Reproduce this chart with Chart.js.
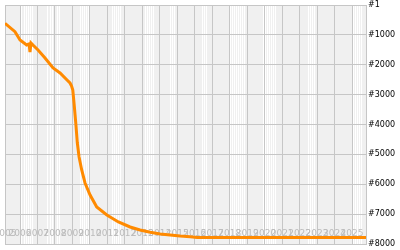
<!DOCTYPE html>
<html>
<head>
<meta charset="utf-8">
<script src="https://cdn.jsdelivr.net/npm/chart.js@4.4.1/dist/chart.umd.min.js"></script>
<style>
  html, body { margin: 0; padding: 0; background: #fff; }
</style>
</head>
<body>
<canvas id="rankChart" width="400" height="250"></canvas>
<script>
// rank history, x as fractional years
const years = [2005.14, 2005.71, 2006.00, 2006.38, 2006.52, 2006.57, 2006.63, 2006.74,
    2007.03, 2007.43, 2007.89, 2008.29, 2008.69, 2008.86, 2008.95, 2009.02, 2009.09,
    2009.19, 2009.28, 2009.38, 2009.53, 2009.72, 2010.01, 2010.39, 2010.97, 2011.63,
    2012.30, 2012.87, 2013.45, 2014.02, 2014.59, 2015.16, 2015.74, 2016.14, 2025.80];
const ranks = [613, 894, 1172, 1340, 1306, 1574, 1273, 1340,
    1507, 1775, 2110, 2277, 2511, 2611, 2712, 2846, 3281,
    3950, 4620, 5088, 5523, 5958, 6360, 6762, 7029, 7263,
    7431, 7532, 7608, 7665, 7699, 7732, 7756, 7780, 7780];

const rankTicks = [1, 1000, 2000, 3000, 4000, 5000, 6000, 7000, 8000];
const yearTicks = [2006, 2007, 2008, 2009, 2010, 2011, 2012, 2013, 2014, 2015,
    2016, 2017, 2018, 2019, 2020, 2021, 2022, 2023, 2024, 2025];
// first label sits on the left edge of the plot
const yearLabels = ["2005", "2006", "2007", "2008", "2009", "2010", "2011", "2012",
    "2013", "2014", "2015", "2016", "2017", "2018", "2019", "2020", "2021", "2022",
    "2023", "2024", "2025"];
const xStart = 2005.14;
const xEnd = 2025.80;

// pale background bands (drawn as thin white lines)
const stripeBands = [[2006.11, 2006.74], [2007.60, 2007.89], [2008.00, 2008.35],
    [2009.44, 2010.01], [2011.27, 2011.84], [2013.16, 2013.73], [2014.59, 2014.88],
    [2016.42, 2016.77], [2018.03, 2018.89], [2019.92, 2020.72], [2022.49, 2022.90],
    [2025.07, 2025.65]];

const GRID = "#c6c6c6";

const plotBackground = {
    id: "plotBackground",
    beforeDraw(chart) {
        const { ctx, chartArea: a } = chart;
        ctx.save();
        ctx.fillStyle = "#f0f0f0";
        ctx.fillRect(a.left, a.top, a.right - a.left, a.bottom - a.top);
        ctx.restore();
    }
};

const stripeTicks = [];
stripeBands.forEach(([from, to]) => {
    for (let v = from; v <= to; v += 0.12) stripeTicks.push({ value: v });
});

new Chart(document.getElementById("rankChart").getContext("2d"), {
    type: "line",
    data: {
        datasets: [{
            data: years.map((y, i) => ({ x: y, y: ranks[i] })),
            borderColor: "#ff8a00",
            borderWidth: 3,
            pointRadius: 0,
            tension: 0,
            fill: false
        }]
    },
    options: {
        responsive: false,
        animation: false,
        devicePixelRatio: 1,
        layout: { padding: { left: 5, top: 5, right: 0, bottom: 0 } },
        plugins: {
            legend: { display: false },
            tooltip: { enabled: false }
        },
        scales: {
            stripes: {
                type: "linear",
                axis: "x",
                position: "bottom",
                min: xStart,
                max: xEnd,
                afterBuildTicks: (scale) => { scale.ticks = stripeTicks; },
                afterFit: (scale) => {
                    scale.height = 0;
                    scale.paddingLeft = 0;
                    scale.paddingRight = 0;
                },
                ticks: { display: false },
                grid: { color: "#ffffff", lineWidth: 1, drawTicks: false, z: -1 },
                border: { display: false }
            },
            x: {
                type: "linear",
                position: "bottom",
                min: xStart,
                max: xEnd,
                afterBuildTicks: (scale) => {
                    scale.ticks = [xStart].concat(yearTicks).map(v => ({ value: v }));
                },
                afterFit: (scale) => {
                    scale.height = 6;
                    scale.paddingLeft = 0;
                    scale.paddingRight = 0;
                },
                ticks: {
                    mirror: true,
                    padding: 5,
                    autoSkip: false,
                    maxRotation: 0,
                    minRotation: 0,
                    color: "#bbbbbb",
                    font: { family: "DejaVu Sans", size: 9 },
                    callback: (value, index) => yearLabels[index]
                },
                grid: { color: GRID, drawTicks: false },
                border: { color: GRID }
            },
            y: {
                type: "linear",
                position: "right",
                reverse: true,
                min: 1,
                max: 8000,
                afterBuildTicks: (scale) => {
                    scale.ticks = rankTicks.map(v => ({ value: v }));
                },
                afterFit: (scale) => {
                    scale.width = 34;
                    scale.paddingTop = 0;
                    scale.paddingBottom = 0;
                },
                ticks: {
                    padding: 2,
                    color: "#000000",
                    font: { family: "DejaVu Sans", size: 8 },
                    callback: (value) => "#" + value
                },
                grid: { color: GRID, drawTicks: false },
                border: { color: GRID }
            }
        }
    },
    plugins: [plotBackground]
});
</script>
</body>
</html>
